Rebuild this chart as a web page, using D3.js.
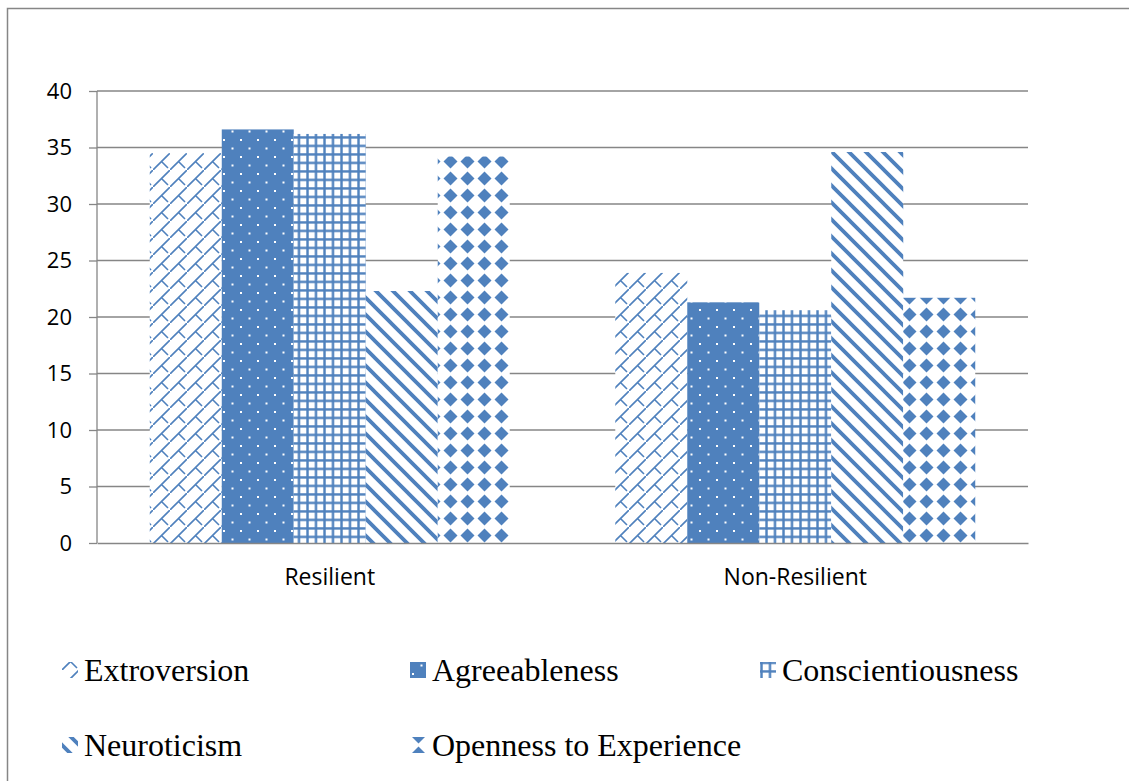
<!DOCTYPE html>
<html>
<head>
<meta charset="utf-8">
<script src="https://cdn.jsdelivr.net/npm/d3@7"></script>
<style>
  body { margin: 0; background: #fff; }
  svg { display: block; }
</style>
</head>
<body>
<div id="chart"></div>
<script>
const categories = ["Resilient", "Non-Resilient"];
const seriesNames = ["Extroversion", "Agreeableness", "Conscientiousness", "Neuroticism", "Openness to Experience"];
const extroversion = [34.5, 23.9];
const agreeableness = [36.6, 21.3];
const conscientiousness = [36.2, 20.6];
const neuroticism = [22.3, 34.6];
const openness = [34.2, 21.7];
const yTicks = [0, 5, 10, 15, 20, 25, 30, 35, 40];

const seriesValues = [extroversion, agreeableness, conscientiousness, neuroticism, openness];
const patternIds = ["pExtro", "pAgree", "pConsc", "pNeuro", "pOpen"];

const blue = "#4F81BD";
const gray = "#868686";

const svg = d3.select("#chart").append("svg")
    .attr("width", 1129)
    .attr("height", 781);

// Patterns (Excel-like hatch fills)
const defs = svg.append("defs");

// shingle
let p = defs.append("pattern").attr("id", "pExtro")
    .attr("patternUnits", "userSpaceOnUse").attr("width", 17).attr("height", 17);
p.append("rect").attr("width", 17).attr("height", 17).attr("fill", "#fff");
p.append("path").attr("d", "M-2,19L19,-2M8.5,8.5L15,15")
    .attr("stroke", blue).attr("stroke-width", 1.6).attr("fill", "none");

// dotted on solid
p = defs.append("pattern").attr("id", "pAgree")
    .attr("patternUnits", "userSpaceOnUse").attr("width", 17).attr("height", 17);
p.append("rect").attr("width", 17).attr("height", 17).attr("fill", blue);
p.append("rect").attr("x", 2).attr("y", 3).attr("width", 2).attr("height", 2).attr("fill", "#fff");
p.append("rect").attr("x", 10.5).attr("y", 11.5).attr("width", 2).attr("height", 2).attr("fill", "#fff");

// small grid
p = defs.append("pattern").attr("id", "pConsc")
    .attr("patternUnits", "userSpaceOnUse").attr("width", 8.5).attr("height", 8.5);
p.append("rect").attr("width", 8.5).attr("height", 8.5).attr("fill", "#fff");
p.append("path").attr("d", "M1.5,0V8.5M0,1.5H8.5")
    .attr("stroke", blue).attr("stroke-width", 2.4).attr("fill", "none");

// wide downward diagonal
p = defs.append("pattern").attr("id", "pNeuro")
    .attr("patternUnits", "userSpaceOnUse").attr("width", 17).attr("height", 17);
p.append("rect").attr("width", 17).attr("height", 17).attr("fill", "#fff");
p.append("path").attr("d", "M-4,-4L21,21M-4,13L4,21M13,-4L21,4")
    .attr("stroke", blue).attr("stroke-width", 3.8).attr("fill", "none");

// diamonds
p = defs.append("pattern").attr("id", "pOpen")
    .attr("patternUnits", "userSpaceOnUse").attr("width", 17).attr("height", 17);
p.append("rect").attr("width", 17).attr("height", 17).attr("fill", "#fff");
p.append("path").attr("d", "M8.5,1.5L15.5,8.5L8.5,15.5L1.5,8.5Z").attr("fill", blue);

// outer chart frame
svg.append("path")
    .attr("d", "M7.5,790V8.5H1135")
    .attr("fill", "none").attr("stroke", gray).attr("stroke-width", 1.5);

const plotLeft = 97, plotRight = 1028, plotTop = 91, plotBottom = 543;

const x0 = d3.scaleBand().domain(categories).range([plotLeft, plotRight]).padding(0);
const x1 = d3.scaleBand().domain(seriesNames).range([0, x0.bandwidth()])
    .paddingInner(0).paddingOuter(0.733);
const y = d3.scaleLinear().domain([0, 40]).range([plotBottom, plotTop]);

// gridlines
svg.append("g").selectAll("line").data(yTicks.filter(d => d > 0)).join("line")
    .attr("x1", plotLeft).attr("x2", plotRight)
    .attr("y1", d => y(d)).attr("y2", d => y(d))
    .attr("stroke", gray).attr("stroke-width", 1.3);

// bars
const groups = svg.append("g").selectAll("g").data(seriesNames).join("g")
    .attr("fill", (d, i) => `url(#${patternIds[i]})`);
groups.selectAll("rect")
    .data((s, i) => categories.map((c, j) => ({ cat: c, series: s, value: seriesValues[i][j] })))
    .join("rect")
    .attr("x", d => x0(d.cat) + x1(d.series))
    .attr("y", d => y(d.value))
    .attr("width", x1.bandwidth())
    .attr("height", d => y(0) - y(d.value));

// y axis
const yAxis = svg.append("g")
    .attr("transform", `translate(${plotLeft},0)`)
    .call(d3.axisLeft(y).tickValues(yTicks).tickSize(8).tickPadding(17));
yAxis.select(".domain").attr("stroke", gray).attr("stroke-width", 1.3).attr("d", `M0,${plotTop}V${plotBottom}`);
yAxis.selectAll(".tick line").attr("stroke", gray).attr("stroke-width", 1.3);
yAxis.selectAll(".tick text")
    .attr("fill", "#000")
    .style("font-family", "'Open Sans', 'Noto Sans', sans-serif")
    .style("font-size", "22px");

// x axis
const xAxis = svg.append("g")
    .attr("transform", `translate(0,${plotBottom})`)
    .call(d3.axisBottom(x0).tickSize(0).tickPadding(30));
xAxis.select(".domain").attr("stroke", gray).attr("stroke-width", 1.5);
xAxis.selectAll(".tick text")
    .attr("fill", "#000")
    .attr("dy", "0.5em")
    .style("font-family", "'Open Sans', 'Noto Sans', sans-serif")
    .style("font-size", "23px");

// legend
const legendPos = [
    { x: 62, y: 670 }, { x: 410, y: 670 }, { x: 760, y: 670 },
    { x: 62, y: 745 }, { x: 410, y: 745 }
];
const legend = svg.append("g").selectAll("g").data(seriesNames).join("g")
    .attr("transform", (d, i) => `translate(${legendPos[i].x},${legendPos[i].y})`);
legend.append("rect")
    .attr("x", 0).attr("y", -8).attr("width", 16).attr("height", 16)
    .attr("fill", (d, i) => `url(#${patternIds[i]})`);
legend.append("text")
    .attr("x", 22).attr("y", 11)
    .style("font-family", "'Liberation Serif', 'Times New Roman', serif")
    .style("font-size", "32px")
    .attr("fill", "#000")
    .text(d => d);
</script>
</body>
</html>
